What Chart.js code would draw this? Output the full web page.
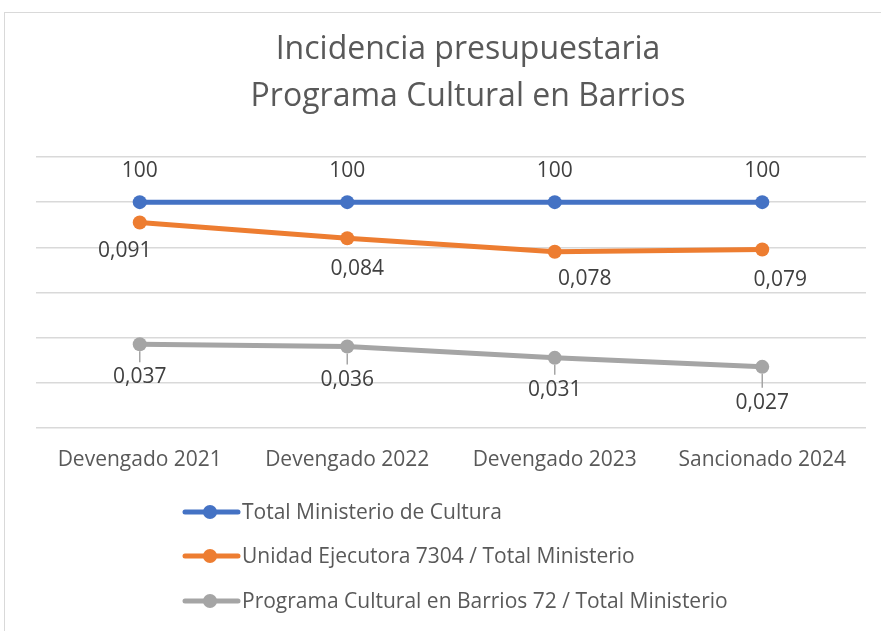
<!DOCTYPE html>
<html>
<head>
<meta charset="utf-8">
<script src="https://cdn.jsdelivr.net/npm/chart.js@4"></script>
<style>
  html, body { margin: 0; padding: 0; background: #fff; }
  #wrap { width: 881px; height: 631px; position: relative; }
</style>
</head>
<body>
<div id="wrap"><canvas id="chart" width="881" height="631"></canvas></div>
<script>
// Chart data
const categories = ['Devengado 2021', 'Devengado 2022', 'Devengado 2023', 'Sancionado 2024'];
const seriesNames = [
    'Total Ministerio de Cultura',
    'Unidad Ejecutora 7304 / Total Ministerio',
    'Programa Cultural en Barrios 72 / Total Ministerio'
];
const totalMinisterio = [0.1, 0.1, 0.1, 0.1];
const totalLabels = ['100', '100', '100', '100'];
const unidadEjecutora = [0.091, 0.084, 0.078, 0.079];
const programaBarrios = [0.037, 0.036, 0.031, 0.027];

const colors = ['#4472C4', '#ED7D31', '#A5A5A5'];
const FONT = '"Open Sans", sans-serif';

// label offsets (px) from each point, like the manual placement in the original
const labelOffsets = [
    [[0, -31], [0, -31], [0, -31], [0, -31]],
    [[-15, 29], [10, 31], [30, 27], [18, 30]],
    [[0, 33], [0, 33], [0, 32], [0, 36]]
];

const fmt = v => v.toFixed(3).replace('.', ',');

const decorPlugin = {
    id: 'decor',
    beforeDraw(chart) {
        const ctx = chart.ctx;
        ctx.save();
        ctx.strokeStyle = '#d9d9d9';
        ctx.lineWidth = 1;
        ctx.strokeRect(4.5, 12.5, 1000, 1000);
        // title
        ctx.fillStyle = '#595959';
        ctx.font = '32px ' + FONT;
        ctx.textAlign = 'center';
        ctx.textBaseline = 'middle';
        ctx.fillText('Incidencia presupuestaria', 468, 50);
        ctx.fillText('Programa Cultural en Barrios', 468, 97);
        ctx.restore();
    },
    afterDatasetsDraw(chart) {
        const ctx = chart.ctx;
        ctx.save();
        ctx.font = '21px ' + FONT;
        ctx.fillStyle = '#404040';
        ctx.textAlign = 'center';
        ctx.textBaseline = 'middle';
        chart.data.datasets.forEach((ds, i) => {
            const meta = chart.getDatasetMeta(i);
            meta.data.forEach((pt, j) => {
                const off = labelOffsets[i][j];
                const txt = i === 0 ? totalLabels[j] : fmt(ds.data[j]);
                if (i === 2) {
                    ctx.strokeStyle = colors[2];
                    ctx.lineWidth = 1.5;
                    ctx.beginPath();
                    ctx.moveTo(pt.x, pt.y + 7);
                    ctx.lineTo(pt.x, pt.y + off[1] - 15);
                    ctx.stroke();
                }
                ctx.fillText(txt, pt.x + off[0], pt.y + off[1]);
            });
        });
        // legend
        ctx.font = '21px ' + FONT;
        ctx.textAlign = 'left';
        const legendY = [512, 556, 601];
        seriesNames.forEach((name, i) => {
            const y = legendY[i];
            ctx.strokeStyle = colors[i];
            ctx.lineWidth = 5;
            ctx.lineCap = 'round';
            ctx.beginPath();
            ctx.moveTo(185, y);
            ctx.lineTo(238, y);
            ctx.stroke();
            ctx.fillStyle = colors[i];
            ctx.beginPath();
            ctx.arc(210, y, 7, 0, Math.PI * 2);
            ctx.fill();
            ctx.fillStyle = '#595959';
            ctx.fillText(name, 242, y + 1);
        });
        ctx.restore();
    }
};

const ctx = document.getElementById('chart').getContext('2d');
new Chart(ctx, {
    type: 'line',
    data: {
        labels: categories,
        datasets: [totalMinisterio, unidadEjecutora, programaBarrios].map((d, i) => ({
            label: seriesNames[i],
            data: d,
            borderColor: colors[i],
            backgroundColor: colors[i],
            borderWidth: 5,
            pointRadius: 7,
            pointHoverRadius: 7,
            pointBorderWidth: 0,
            tension: 0
        }))
    },
    options: {
        responsive: false,
        animation: false,
        events: [],
        layout: { padding: { left: 36, right: 15, top: 157, bottom: 138 } },
        plugins: {
            legend: { display: false },
            title: { display: false },
            tooltip: { enabled: false }
        },
        scales: {
            x: {
                offset: true,
                grid: { display: false, drawTicks: false },
                border: { display: false },
                ticks: {
                    color: '#595959',
                    font: { family: FONT, size: 21 },
                    padding: 20,
                    maxRotation: 0
                }
            },
            y: {
                min: 0,
                max: 0.12,
                ticks: { display: false, stepSize: 0.02 },
                grid: { color: '#d9d9d9', lineWidth: 1.5, drawTicks: false },
                border: { display: false }
            }
        }
    },
    plugins: [decorPlugin]
});
</script>
</body>
</html>
